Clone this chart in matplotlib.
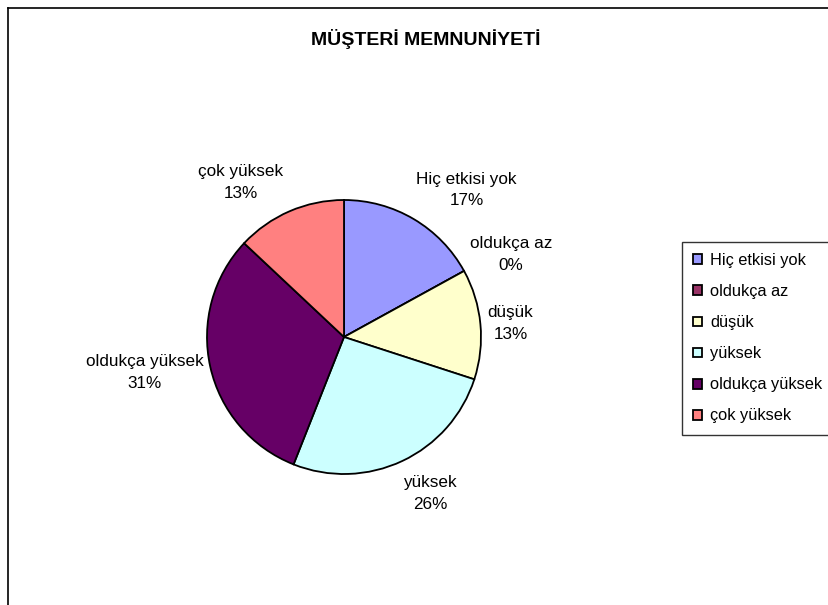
import matplotlib
matplotlib.use("Agg")
import matplotlib.pyplot as plt
from matplotlib.lines import Line2D

categories = ["Hiç etkisi yok", "oldukça az", "düşük", "yüksek", "oldukça yüksek", "çok yüksek"]
values = [17, 0, 13, 26, 31, 13]
colors = ["#9999FF", "#993366", "#FFFFCC", "#CCFFFF", "#660066", "#FF8080"]
title = "MÜŞTERİ MEMNUNİYETİ"

plt.rcParams['font.family'] = ['Liberation Sans', 'DejaVu Sans']

W, H = 829, 605
fig = plt.figure(figsize=(W/100, H/100), dpi=100)

# outer chart frame (cut off at right/bottom)
fig.add_artist(Line2D([8.5/W, 8.5/W], [0, 1-7.5/H], color='black', lw=1.2, transform=fig.transFigure))
fig.add_artist(Line2D([8.5/W, 1], [1-7.5/H, 1-7.5/H], color='black', lw=1.2, transform=fig.transFigure))

fig.text(426/W, 1-39/H, title, ha='center', va='center', fontsize=14, fontweight='bold')

cx, cy, r = 344, 337, 137
ax = fig.add_axes([(cx-r)/W, (H-cy-r)/H, 2*r/W, 2*r/H])
wedges, _ = ax.pie(values, colors=colors, startangle=90, counterclock=False,
                   wedgeprops=dict(edgecolor='black', linewidth=1.3))
ax.set_xlim(-1, 1); ax.set_ylim(-1, 1)
ax.set_aspect('equal')

label_pos = [(0.894, 1.073), (1.219, 0.602), (1.215, 0.099), (0.628, -1.142),
             (-1.456, -0.259), (-0.752, 1.131)]
for cat, v, (lx, ly) in zip(categories, values, label_pos):
    ax.text(lx, ly, f"{cat}\n{v}%", ha='center', va='center', fontsize=12.3,
            linespacing=1.58, clip_on=False)

leg = fig.legend(wedges, categories, loc='upper left',
                 bbox_to_anchor=(682/W, 1-242/H, 200/W, 0.0), mode='expand',
                 frameon=True, fancybox=False, edgecolor='black', fontsize=11.8,
                 handlelength=0.55, handleheight=0.55, handletextpad=0.5,
                 labelspacing=0.98, borderpad=0.68, borderaxespad=0)
leg.get_frame().set_linewidth(1.0)

fig.savefig("out.png", dpi=100)
